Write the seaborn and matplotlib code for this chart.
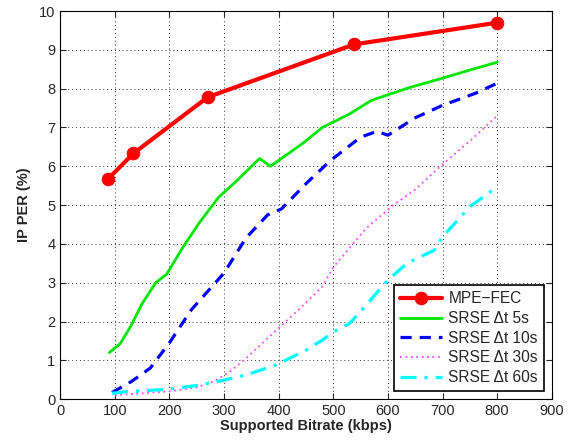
import pandas as pd
import matplotlib
matplotlib.use('Agg')
import matplotlib.pyplot as plt
import seaborn as sns

# values
mpe_x = [88, 134, 270, 538, 800]
mpe_y = [5.68, 6.33, 7.78, 9.14, 9.70]

s5_x = [90, 110, 130, 150, 175, 195, 225, 255, 290, 325, 365, 385, 445, 480, 530, 570, 640, 700, 750, 800]
s5_y = [1.2, 1.43, 1.9, 2.46, 3.0, 3.22, 3.92, 4.55, 5.2, 5.65, 6.2, 6.0, 6.6, 7.0, 7.35, 7.7, 8.03, 8.27, 8.48, 8.68]

s10_x = [95, 130, 165, 200, 240, 300, 340, 380, 405, 450, 495, 550, 580, 600, 650, 700, 760, 800]
s10_y = [0.17, 0.45, 0.8, 1.45, 2.3, 3.25, 4.15, 4.75, 4.9, 5.55, 6.15, 6.75, 6.9, 6.8, 7.25, 7.57, 7.88, 8.14]

s30_x = [100, 150, 200, 250, 280, 310, 340, 390, 440, 480, 500, 560, 610, 650, 700, 750, 800]
s30_y = [0.1, 0.15, 0.2, 0.3, 0.45, 0.7, 1.05, 1.7, 2.35, 2.9, 3.4, 4.4, 5.0, 5.4, 6.05, 6.65, 7.3]

s60_x = [95, 120, 195, 255, 300, 340, 395, 450, 480, 500, 530, 560, 600, 635, 685, 700, 750, 800]
s60_y = [0.15, 0.19, 0.25, 0.36, 0.49, 0.62, 0.88, 1.26, 1.52, 1.73, 1.95, 2.42, 3.07, 3.5, 3.84, 4.18, 4.96, 5.47]

x_ticks = list(range(0, 901, 100))
y_ticks = list(range(0, 11))

sns.set_style("ticks")
plt.rcParams['font.family'] = ['Liberation Sans', 'DejaVu Sans']
plt.rcParams['xtick.direction'] = 'in'
plt.rcParams['ytick.direction'] = 'in'

fig = plt.figure(figsize=(5.73, 4.42), dpi=100)
ax = fig.add_axes([0.105, 0.097, 0.858, 0.878])

sns.lineplot(x=mpe_x, y=mpe_y, ax=ax, color='#ff0000', lw=3, marker='o', markersize=9,
             markeredgecolor='#ff0000', label='MPE\u2212FEC')
sns.lineplot(x=s5_x, y=s5_y, ax=ax, color='#00e600', lw=2, label='SRSE \u0394t 5s')
sns.lineplot(x=s10_x, y=s10_y, ax=ax, color='#0000ff', lw=2.3, linestyle=(0, (3.5, 2.5)), label='SRSE \u0394t 10s')
sns.lineplot(x=s30_x, y=s30_y, ax=ax, color='#ff44ff', lw=1.3, linestyle=(0, (1, 2)), label='SRSE \u0394t 30s')
sns.lineplot(x=s60_x, y=s60_y, ax=ax, color='#00ffff', lw=2.3, linestyle=(0, (5, 2.5, 1, 2.5)), label='SRSE \u0394t 60s')

ax.set_xlim(0, 900)
ax.set_ylim(0, 10)
ax.set_xticks(x_ticks)
ax.set_yticks(y_ticks)
ax.tick_params(labelsize=10.5, length=4, top=True, right=True)
ax.grid(True, linestyle=(0, (1, 3)), color='#333333', lw=0.7)
for s in ax.spines.values():
    s.set_visible(True)
    s.set_linewidth(0.8)
    s.set_color('black')

ax.set_xlabel('Supported Bitrate (kbps)', fontsize=10.5, fontweight='bold', labelpad=1)
ax.set_ylabel('IP PER (%)', fontsize=10.5, fontweight='bold', labelpad=6)

leg = ax.legend(loc='lower right', fontsize=11.2, frameon=True, fancybox=False,
                edgecolor='black', framealpha=1, handlelength=2.7, handletextpad=0.4,
                borderaxespad=0.5, labelspacing=0.3, borderpad=0.4)
leg.get_frame().set_linewidth(1.2)

fig.savefig('out.png', dpi=100)
